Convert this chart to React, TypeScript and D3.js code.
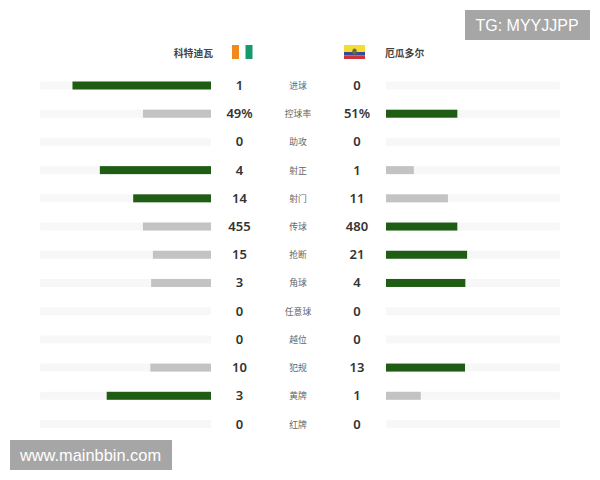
import React from "react";
import * as d3 from "d3";

const stats = ["进球", "控球率", "助攻", "射正", "射门", "传球", "抢断", "角球", "任意球", "越位", "犯规", "黄牌", "红牌"];
const homeLabels = ["1", "49%", "0", "4", "14", "455", "15", "3", "0", "0", "10", "3", "0"];
const awayLabels = ["0", "51%", "0", "1", "11", "480", "21", "4", "0", "0", "13", "1", "0"];
const homeShare = [81, 39.8, 0, 65, 45.5, 39.8, 34, 35, 0, 0, 35.5, 61, 0];
const awayShare = [0, 41, 0, 16, 35.6, 41, 46.6, 45.6, 0, 0, 45.4, 20, 0];
const homeLeads = [true, false, false, true, true, false, false, false, false, false, false, true, false];
const awayLeads = [false, true, false, false, false, true, true, true, false, false, true, false, false];
const homeName = "科特迪瓦";
const awayName = "厄瓜多尔";
const rowPositions = [0, 1, 2, 3, 4, 5, 6, 7, 8, 9, 10, 11, 12];

const CJK = "'Noto Sans CJK SC', sans-serif";
const NUM = "'Noto Sans', 'Open Sans', sans-serif";
const GREEN = "#1f5c14";
const GRAY = "#c3c3c3";
const TRACK = "#f7f7f7";

export default function App() {
  const y = d3.scaleLinear().domain([0, 12]).range([85.5, 424]);
  const left = d3.scaleLinear().domain([0, 100]).range([211, 40]);
  const right = d3.scaleLinear().domain([0, 100]).range([386, 560]);
  const h = 8;
  return (
    <svg width={600} height={480} style={{ position: "absolute", left: 0, top: 0, background: "#fff" }}>
      <text x={213} y={56.5} textAnchor="end" fontFamily={CJK} fontSize={9.8} fontWeight={700} fill="#444">{homeName}</text>
      <text x={385} y={56.5} fontFamily={CJK} fontSize={9.8} fontWeight={700} fill="#444">{awayName}</text>

      <rect x={232} y={45} width={7} height={14} fill="#f08a1d" />
      <rect x={245.5} y={45} width={7} height={14} fill="#169a6c" />

      <rect x={344} y={45} width={21} height={7} fill="#f4dc32" />
      <rect x={344} y={52} width={21} height={3.5} fill="#3a4a92" />
      <rect x={344} y={55.5} width={21} height={3.5} fill="#d0323c" />
      <ellipse cx={354.5} cy={51.5} rx={2.2} ry={3} fill="#6b6a3c" />

      {rowPositions.map((i) => {
        const cy = y(i);
        return (
          <g key={i}>
            <rect x={left(100)} y={cy - h / 2} width={left(0) - left(100)} height={h} rx={1} fill={TRACK} />
            <rect x={right(0)} y={cy - h / 2} width={right(100) - right(0)} height={h} rx={1} fill={TRACK} />
            {homeShare[i] > 0 && (
              <rect x={left(homeShare[i])} y={cy - h / 2} width={left(0) - left(homeShare[i])} height={h} fill={homeLeads[i] ? GREEN : GRAY} />
            )}
            {awayShare[i] > 0 && (
              <rect x={right(0)} y={cy - h / 2} width={right(awayShare[i]) - right(0)} height={h} fill={awayLeads[i] ? GREEN : GRAY} />
            )}
            <text x={239.5} y={cy + 4.5} textAnchor="middle" fontFamily={NUM} fontSize={13} fontWeight={600} fill="#333">{homeLabels[i]}</text>
            <text x={357} y={cy + 4.5} textAnchor="middle" fontFamily={NUM} fontSize={13} fontWeight={600} fill="#333">{awayLabels[i]}</text>
            <text x={298} y={cy + 3.5} textAnchor="middle" fontFamily={CJK} fontSize={8.8} fill="#666">{stats[i]}</text>
          </g>
        );
      })}

      <rect x={465} y={10} width={125} height={30} fill="#a6a6a6" />
      <text x={527} y={31} textAnchor="middle" fontFamily="'Liberation Sans', Arial, sans-serif" fontSize={16} fill="#fff">TG: MYYJJPP</text>
      <rect x={10} y={440} width={162} height={30} fill="#a6a6a6" />
      <text x={90.5} y={461} textAnchor="middle" fontFamily="'Liberation Sans', Arial, sans-serif" fontSize={16.4} fill="#fff">www.mainbbin.com</text>
    </svg>
  );
}
